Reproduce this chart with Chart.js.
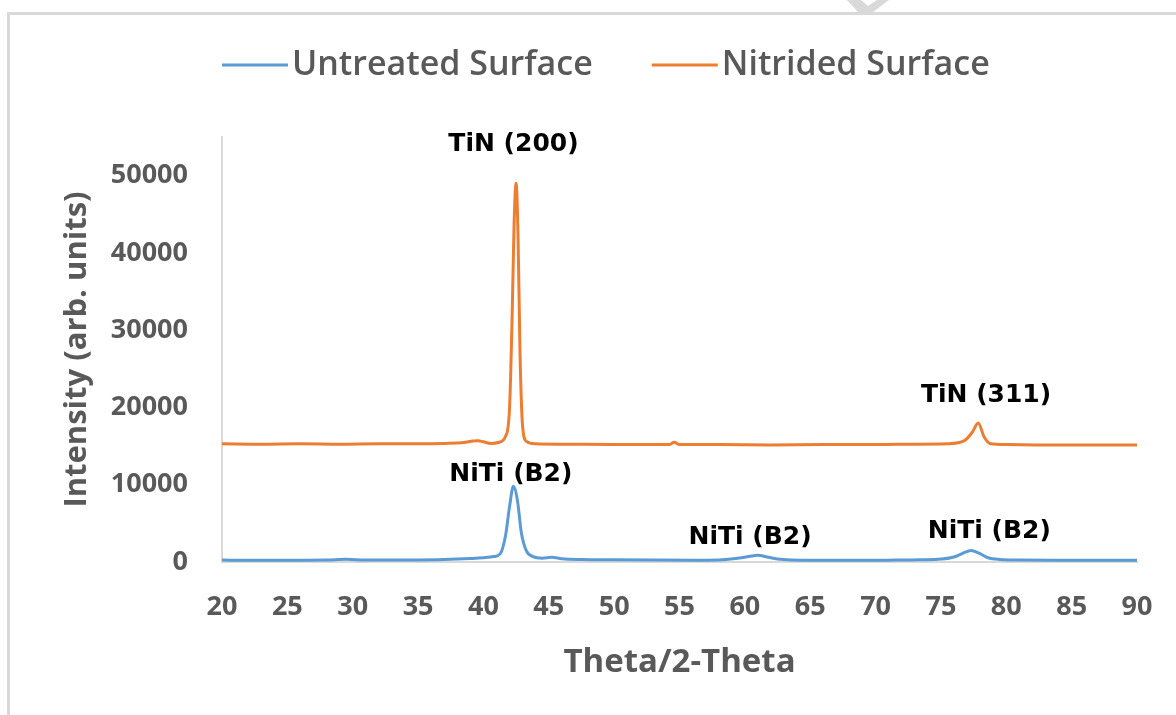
<!DOCTYPE html>
<html>
<head>
<meta charset="utf-8">
<script src="https://cdn.jsdelivr.net/npm/chart.js@4.4.1/dist/chart.umd.min.js"></script>
<style>
  html, body { margin: 0; padding: 0; background: #fff; }
  #wrap { width: 1176px; height: 715px; }
</style>
</head>
<body>
<div id="wrap"><canvas id="xrd"></canvas></div>
<script>
// 2-theta positions and intensities
var untreatedX = [20, 22, 24, 26, 28, 29.5, 31, 33, 35, 36.5, 38, 39, 40, 40.8, 41.3, 41.7, 42.0, 42.3, 42.6, 42.9, 43.3, 43.8, 44.5, 45.2, 46, 47.5, 50, 53, 56, 58, 59.3, 60.3, 61.0, 61.7, 62.5, 63.5, 65, 68, 71, 73.5, 75, 76, 76.7, 77.3, 77.9, 78.6, 79.5, 81, 84, 87, 90];
var untreatedY = [250, 230, 240, 230, 250, 350, 260, 250, 260, 300, 380, 450, 550, 700, 1100, 3500, 7200, 9800, 8000, 3800, 1400, 700, 500, 600, 420, 320, 280, 250, 240, 270, 450, 700, 880, 650, 380, 260, 240, 230, 240, 280, 380, 650, 1150, 1480, 1150, 550, 330, 260, 240, 230, 240];

var nitridedX = [20, 23, 26, 29, 32, 35, 37, 38.5, 39.2, 39.6, 40.0, 40.6, 41.2, 41.7, 42.0, 42.2, 42.35, 42.5, 42.65, 42.8, 43.0, 43.3, 44, 46, 50, 54.2, 54.6, 55, 58, 62, 66, 70, 73, 75.5, 76.8, 77.4, 77.85, 78.3, 78.8, 80, 83, 86, 90];
var nitridedY = [15300, 15250, 15300, 15250, 15300, 15300, 15350, 15450, 15650, 15700, 15550, 15350, 15500, 16300, 20000, 32000, 44000, 49000, 42000, 27000, 17500, 15600, 15300, 15250, 15200, 15200, 15500, 15200, 15200, 15150, 15200, 15200, 15250, 15300, 15700, 16800, 18000, 16200, 15300, 15200, 15150, 15150, 15150];

var seriesNames = ['Untreated Surface', 'Nitrided Surface'];
var seriesColors = ['#5B9BD5', '#ED7D31'];

var yTicks = [0, 10000, 20000, 30000, 40000, 50000];
var xTicks = [20, 25, 30, 35, 40, 45, 50, 55, 60, 65, 70, 75, 80, 85, 90];

var peakLabels = ['TiN (200)', 'NiTi (B2)', 'TiN (311)', 'NiTi (B2)', 'NiTi (B2)'];
var peakLabelX = [42.3, 42.1, 78.45, 60.4, 78.7];
var peakLabelY = [54000, 11300, 21600, 3200, 3900];

var greyText = '#595959';

function toPoints(xs, ys) {
  var pts = [];
  for (var i = 0; i < xs.length; i++) pts.push({x: xs[i], y: ys[i]});
  return pts;
}

function fixedTicks(list) {
  return function(scale) {
    scale.ticks = list.map(function(v) { return {value: v}; });
  };
}

// frame + watermark scrap
var framePlugin = {
  id: 'frame',
  beforeDraw: function(chart) {
    var ctx = chart.ctx;
    ctx.save();
    ctx.strokeStyle = '#d9d9d9';
    ctx.lineWidth = 3;
    ctx.beginPath();
    ctx.moveTo(8.5, 715);
    ctx.lineTo(8.5, 13.5);
    ctx.lineTo(1176, 13.5);
    ctx.stroke();
    ctx.fillStyle = '#d9d9d9';
    ctx.beginPath();
    ctx.moveTo(847, 0); ctx.lineTo(861, 0); ctx.lineTo(868, 6);
    ctx.lineTo(877, 0); ctx.lineTo(889, 0); ctx.lineTo(873, 12);
    ctx.lineTo(858, 12);
    ctx.closePath();
    ctx.fill();
    ctx.restore();
  }
};

// legend with the line sitting right against the text
var legendPlugin = {
  id: 'lineLegend',
  afterDraw: function(chart) {
    var ctx = chart.ctx;
    var x = 222, y = 65;
    ctx.save();
    ctx.font = '600 34px "Open Sans"';
    ctx.textBaseline = 'middle';
    ctx.textAlign = 'left';
    chart.data.datasets.forEach(function(ds) {
      ctx.strokeStyle = ds.borderColor;
      ctx.lineWidth = 3;
      ctx.beginPath();
      ctx.moveTo(x, y);
      ctx.lineTo(x + 66, y);
      ctx.stroke();
      ctx.fillStyle = greyText;
      ctx.fillText(ds.label, x + 70, y);
      x += 70 + ctx.measureText(ds.label).width + 59;
    });
    ctx.restore();
  }
};

var peakPlugin = {
  id: 'peakLabels',
  afterDatasetsDraw: function(chart) {
    var ctx = chart.ctx;
    var xs = chart.scales.x, ys = chart.scales.y;
    ctx.save();
    ctx.font = 'bold 25px "DejaVu Sans"';
    ctx.fillStyle = '#000';
    ctx.textAlign = 'center';
    ctx.textBaseline = 'middle';
    for (var i = 0; i < peakLabels.length; i++) {
      ctx.fillText(peakLabels[i], xs.getPixelForValue(peakLabelX[i]), ys.getPixelForValue(peakLabelY[i]));
    }
    ctx.restore();
  }
};

var ctx = document.getElementById('xrd').getContext('2d');
var chart = new Chart(ctx, {
  type: 'line',
  data: {
    datasets: [{
      label: seriesNames[0],
      data: toPoints(untreatedX, untreatedY),
      borderColor: seriesColors[0],
      backgroundColor: seriesColors[0],
      borderWidth: 3,
      pointRadius: 0,
      cubicInterpolationMode: 'monotone'
    }, {
      label: seriesNames[1],
      data: toPoints(nitridedX, nitridedY),
      borderColor: seriesColors[1],
      backgroundColor: seriesColors[1],
      borderWidth: 3,
      pointRadius: 0,
      cubicInterpolationMode: 'monotone'
    }]
  },
  options: {
    responsive: true,
    maintainAspectRatio: false,
    animation: false,
    layout: { padding: { top: 137, right: 39, left: 0, bottom: 0 } },
    plugins: {
      legend: { display: false },
      tooltip: { enabled: false }
    },
    scales: {
      x: {
        type: 'linear',
        min: 20,
        max: 90,
        grid: { display: false, drawTicks: false },
        border: { display: true, color: '#d9d9d9', width: 2 },
        afterBuildTicks: fixedTicks(xTicks),
        ticks: {
          padding: 29,
          color: greyText,
          font: { family: 'Open Sans', size: 27, weight: 'bold' },
          maxRotation: 0,
          autoSkip: false,
          callback: function(v) { return String(v); }
        },
        title: {
          display: true,
          text: 'Theta/2-Theta',
          color: greyText,
          font: { family: 'Open Sans', size: 33, weight: 'bold' },
          padding: { top: 33, bottom: 33 }
        },
        afterFit: function(scale) {
          scale.height = 153;
          scale.paddingLeft = 0;
          scale.paddingRight = 0;
        }
      },
      y: {
        min: 0,
        max: 55000,
        grid: { display: false, drawTicks: false },
        border: { display: true, color: '#d9d9d9', width: 2 },
        afterBuildTicks: fixedTicks(yTicks),
        ticks: {
          padding: 34,
          color: greyText,
          font: { family: 'Open Sans', size: 27, weight: 'bold' },
          autoSkip: false,
          callback: function(v) { return String(v); }
        },
        title: {
          display: true,
          text: 'Intensity (arb. units)',
          color: greyText,
          font: { family: 'Open Sans', size: 31, weight: 'bold' },
          padding: { top: 59, bottom: 59 }
        },
        afterFit: function(scale) { scale.width = 222; }
      }
    }
  },
  plugins: [framePlugin, legendPlugin, peakPlugin]
});
</script>
</body>
</html>
